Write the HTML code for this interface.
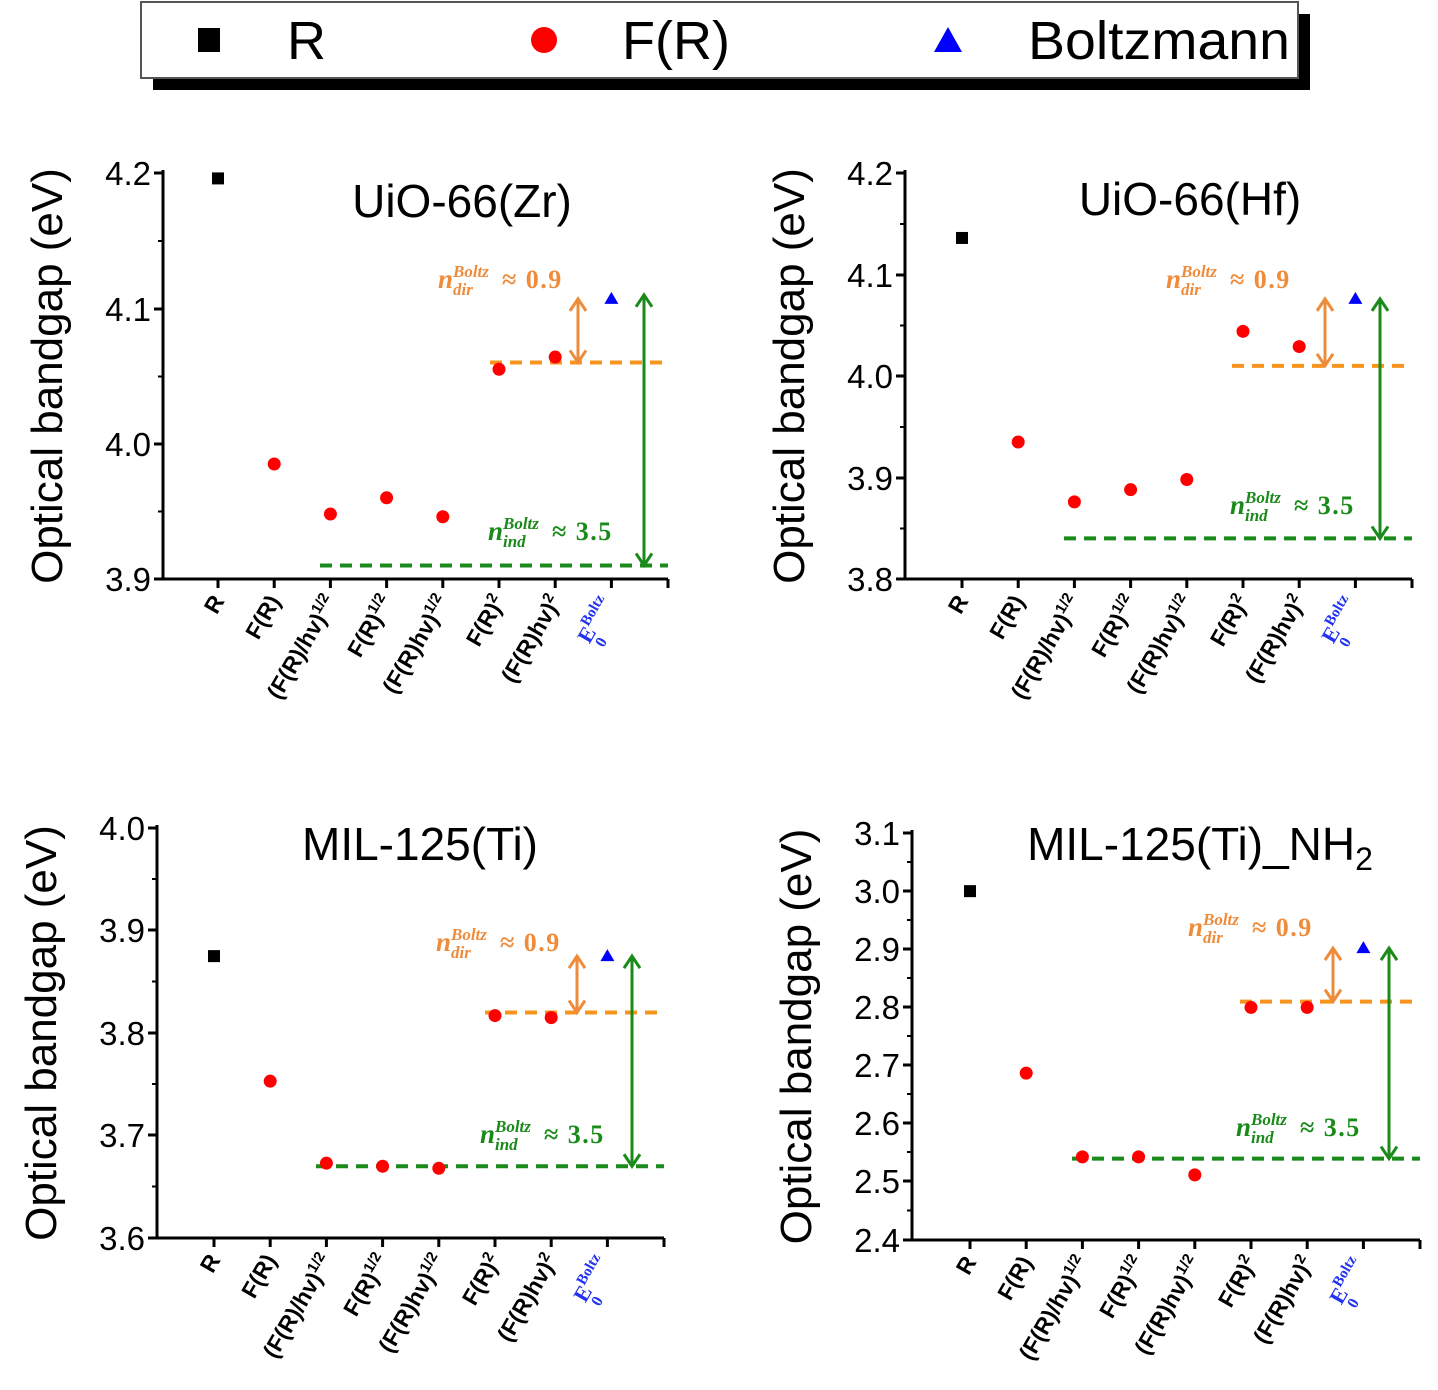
<!DOCTYPE html>
<html><head><meta charset="utf-8"><style>
html,body{margin:0;padding:0;background:#fff;}
svg{display:block;font-family:"Liberation Sans",sans-serif;}
</style></head><body>
<svg id="s" width="1438" height="1390" viewBox="0 0 1438 1390" xmlns="http://www.w3.org/2000/svg">
<rect x="153" y="14" width="1157" height="76" fill="#000"/>
<rect x="141" y="2" width="1157" height="76" fill="#fff" stroke="#555" stroke-width="2"/>
<rect x="198" y="28" width="22" height="24" fill="#000"/>
<text x="287" y="59" font-size="54">R</text>
<ellipse cx="544" cy="40" rx="13" ry="13" fill="#f00"/>
<text x="622" y="59" font-size="54">F(R)</text>
<polygon points="948,27 962,52 934,52" fill="#00f"/>
<text x="1028" y="59" font-size="54" textLength="262" lengthAdjust="spacingAndGlyphs">Boltzmann</text>
</svg>
<script>
const S=document.getElementById('s');const NS='http://www.w3.org/2000/svg';
function el(t,a,txt){const e=document.createElementNS(NS,t);for(const k in a)e.setAttribute(k,a[k]);if(txt!==undefined)e.innerHTML=txt;S.appendChild(e);return e;}
const cats=['R','F(R)','(F(R)/hv)<tspan font-size="15" dy="-9">1/2</tspan>','F(R)<tspan font-size="15" dy="-9">1/2</tspan>','(F(R)hv)<tspan font-size="15" dy="-9">1/2</tspan>','F(R)<tspan font-size="15" dy="-9">2</tspan>','(F(R)hv)<tspan font-size="15" dy="-9">2</tspan>'];
const P=[
 {ax:163,x0:218,right:668,ticks:[[4.2,173],[4.1,309],[4.0,444],[3.9,579]],title:'UiO-66(Zr)',tx:462,ty:217,ylx:48,
  v:[4.196,3.985,3.948,3.960,3.946,4.055,4.064,4.107],o:[4.060,490],g:[3.910,320],oa:578,ga:644,oy:[4.107,4.060],gy:[4.11,3.91],ol:[438,288],gl:[488,540]},
 {ax:905,x0:962,right:1412,ticks:[[4.2,173],[4.1,275],[4.0,376],[3.9,478],[3.8,579]],title:'UiO-66(Hf)',tx:1190,ty:215,ylx:790,
  v:[4.136,3.935,3.876,3.888,3.898,4.044,4.029,4.076],o:[4.010,1232],g:[3.840,1064],oa:1325,ga:1380,oy:[4.076,4.010],gy:[4.076,3.84],ol:[1166,288],gl:[1230,514]},
 {ax:157,x0:214,right:664,ticks:[[4.0,828],[3.9,930],[3.8,1033],[3.7,1135],[3.6,1238]],title:'MIL-125(Ti)',tx:420,ty:860,ylx:42,
  v:[3.875,3.753,3.673,3.670,3.668,3.817,3.815,3.875],o:[3.820,485],g:[3.670,316],oa:577,ga:632,oy:[3.875,3.820],gy:[3.875,3.670],ol:[436,951],gl:[480,1143]},
 {ax:912,x0:970,right:1420,ticks:[[3.1,833],[3.0,891],[2.9,949],[2.8,1007],[2.7,1065],[2.6,1123],[2.5,1181],[2.4,1240]],title:'MIL-125(Ti)_NH<tspan font-size="32" dy="10">2</tspan>',tx:1200,ty:860,ylx:797,
  v:[3.000,2.687,2.543,2.543,2.512,2.800,2.800,2.902],o:[2.810,1240],g:[2.540,1072],oa:1333,ga:1389,oy:[2.902,2.810],gy:[2.902,2.540],ol:[1188,936],gl:[1236,1136]}
];
const sp=56.2;
function nlab(x,y,sub,val,c){
 el('text',{x:x,y:y,'font-size':27,'font-weight':'bold','font-style':'italic','font-family':'Liberation Serif,serif',fill:c},'n');
 el('text',{x:x+15,y:y-11,'font-size':17,'font-weight':'bold','font-style':'italic','font-family':'Liberation Serif,serif',fill:c},'Boltz');
 el('text',{x:x+15,y:y+7,'font-size':17,'font-weight':'bold','font-style':'italic','font-family':'Liberation Serif,serif',fill:c},sub);
 el('text',{x:x+64,y:y,'font-size':26,'font-weight':'bold','font-family':'Liberation Serif,serif',fill:c,'letter-spacing':'1.5'},'≈ '+val);
}
P.forEach(p=>{
 const t=p.ticks,n=t.length;const yb=t[n-1][1],yt=t[0][1];
 const Y=v=>t[n-1][1]+(v-t[n-1][0])*(t[0][1]-t[n-1][1])/(t[0][0]-t[n-1][0]);
 el('line',{x1:p.ax,y1:yt-3,x2:p.ax,y2:yb,stroke:'#000','stroke-width':3});
 el('line',{x1:p.ax-8,y1:yb,x2:p.right,y2:yb,stroke:'#000','stroke-width':3});
 t.forEach((tk,i)=>{
  el('line',{x1:p.ax-9,y1:tk[1],x2:p.ax,y2:tk[1],stroke:'#000','stroke-width':3});
  el('text',{x:p.ax-12,y:tk[1]+12,'font-size':33,'text-anchor':'end'},tk[0].toFixed(1));
  if(i<n-1){const m=(tk[1]+t[i+1][1])/2;el('line',{x1:p.ax-5,y1:m,x2:p.ax,y2:m,stroke:'#000','stroke-width':2});}
 });
 for(let i=0;i<8;i++){const x=p.x0+i*sp;
  el('line',{x1:x,y1:yb,x2:x,y2:yb+9,stroke:'#000','stroke-width':3});
  if(i<7) el('text',{transform:`translate(${x+7},${yb+22}) rotate(-60)`,'font-size':23,'font-weight':'bold','text-anchor':'end'},cats[i]);
  else {
   el('text',{transform:`translate(${x+2},${yb+24}) rotate(-60)`,'font-size':22,'font-weight':'bold','font-family':'Liberation Serif,serif',fill:'#2233ee','text-anchor':'end'},'E<tspan font-size="15" dy="-10">Boltz</tspan>');
   el('text',{transform:`translate(${x+2},${yb+24}) rotate(-60) translate(-44,14)`,'font-size':16,'font-weight':'bold','font-family':'Liberation Serif,serif',fill:'#2233ee'},'0');
  }
 }
 el('line',{x1:p.right,y1:yb,x2:p.right,y2:yb+9,stroke:'#000','stroke-width':3});
 el('text',{x:p.tx,y:p.ty,'font-size':46,'text-anchor':'middle'},p.title);
 el('text',{transform:`translate(${p.ylx+14},${(yt+yb)/2}) rotate(-90)`,'font-size':44,'text-anchor':'middle'},'Optical bandgap (eV)');
 el('line',{x1:p.o[1],y1:Y(p.o[0]),x2:p.right,y2:Y(p.o[0]),stroke:'#f7941d','stroke-width':4,'stroke-dasharray':'12 8'});
 el('line',{x1:p.g[1],y1:Y(p.g[0]),x2:p.right,y2:Y(p.g[0]),stroke:'#1a8a1a','stroke-width':4,'stroke-dasharray':'12 8'});
 const arr=(x,y1,y2,c)=>{el('line',{x1:x,y1:y1,x2:x,y2:y2,stroke:c,'stroke-width':3});
  el('polyline',{points:`${x-8},${y1+12} ${x},${y1} ${x+8},${y1+12}`,fill:'none',stroke:c,'stroke-width':3});
  el('polyline',{points:`${x-8},${y2-12} ${x},${y2} ${x+8},${y2-12}`,fill:'none',stroke:c,'stroke-width':3});};
 arr(p.oa,Y(p.oy[0]),Y(p.oy[1]),'#ee8c3c');arr(p.ga,Y(p.gy[0]),Y(p.gy[1]),'#1a8a1a');
 nlab(p.ol[0],p.ol[1],'dir','0.9','#ee8c3c');
 nlab(p.gl[0],p.gl[1],'ind','3.5','#1a8a1a');
 p.v.forEach((v,i)=>{const x=p.x0+i*sp,y=Y(v);
  if(i==0) el('rect',{x:x-6,y:y-6,width:12,height:12,fill:'#000'});
  else if(i==7) el('polygon',{points:`${x},${y-7} ${x+7},${y+5} ${x-7},${y+5}`,fill:'#00f'});
  else el('circle',{cx:x,cy:y,r:6.5,fill:'#f00'});});
});
</script>
</body></html>
